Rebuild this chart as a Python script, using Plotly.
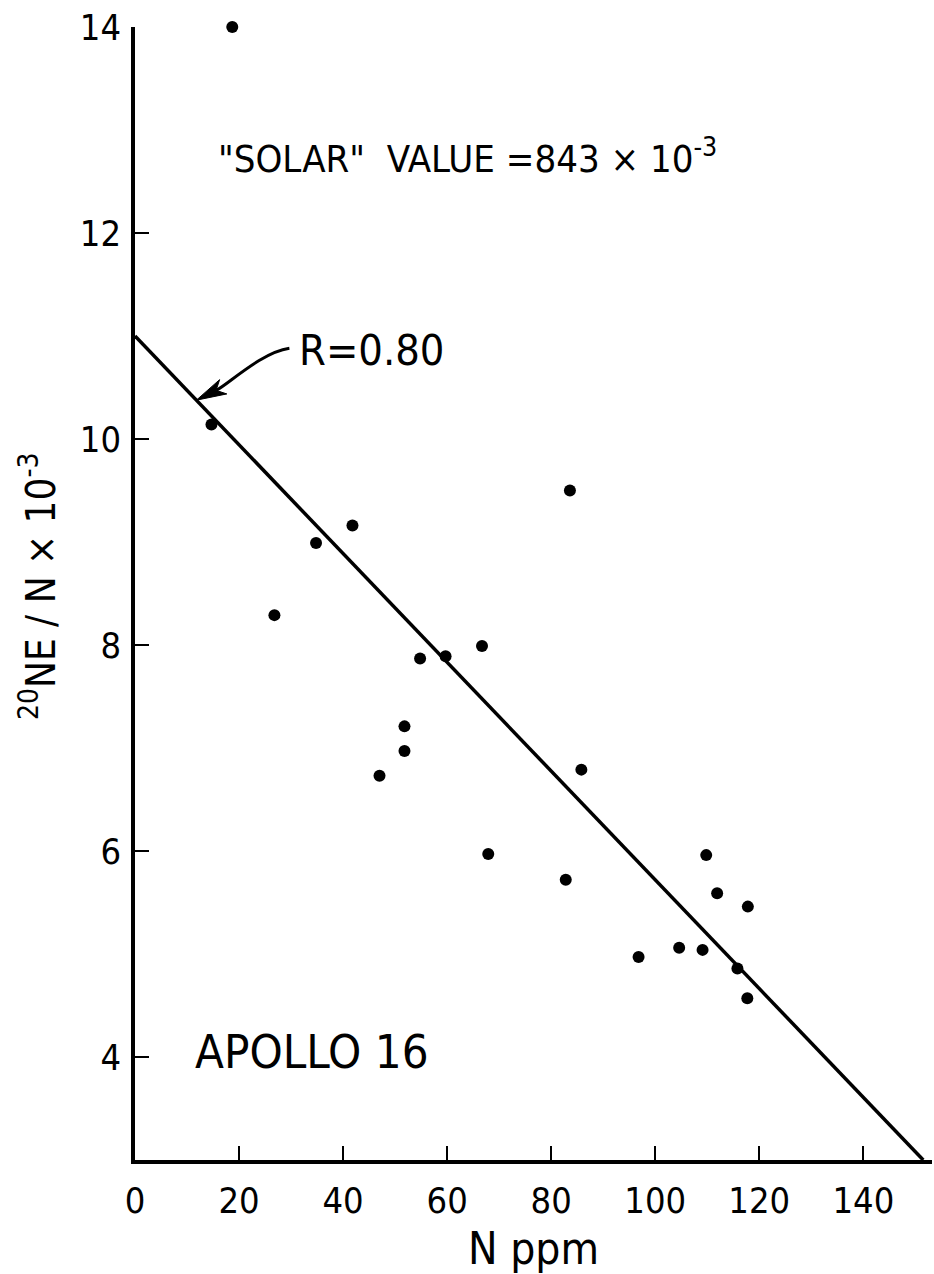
import math
import plotly.graph_objects as go

# Nitrogen content (ppm) and 20Ne/N ratio (x 10^-3) for Apollo 16 samples
n_ppm = [18.7, 14.7, 41.8, 34.8, 26.8, 66.7, 83.6, 54.8, 59.7, 51.8, 51.8, 47.0,
         85.8, 67.9, 82.8, 109.8, 111.9, 117.8, 104.6, 109.1, 96.8, 115.8, 117.7]
ne_n_ratio = [14.0, 10.14, 9.16, 8.99, 8.29, 7.99, 9.50, 7.87, 7.89, 7.21, 6.97, 6.73,
              6.79, 5.97, 5.72, 5.96, 5.59, 5.46, 5.06, 5.04, 4.97, 4.86, 4.57]

# Least-squares line
fit_intercept = 11.0
fit_slope = -0.0528
fit_x = [0.0, (3.0 - fit_intercept) / fit_slope]

x_ticks = [0, 20, 40, 60, 80, 100, 120, 140]
y_ticks = [4, 6, 8, 10, 12, 14]

X_RANGE = [0, 153.2]
Y_RANGE = [3, 14]
W, H = 934, 1274
ML, MR, MT, MB = 135, 2, 27, 112

FONT = "DejaVu Sans Condensed, DejaVu Sans, sans-serif"

fig = go.Figure()

fig.add_trace(go.Scatter(
    x=fit_x, y=[fit_intercept + fit_slope * v for v in fit_x],
    mode="lines", line=dict(color="black", width=3.5), hoverinfo="skip", showlegend=False,
))
fig.add_trace(go.Scatter(
    x=n_ppm, y=ne_n_ratio, mode="markers",
    marker=dict(color="black", size=12), showlegend=False, cliponaxis=False,
))

# pixel <-> data helpers for the curved pointer
pw = W - ML - MR
ph = H - MT - MB
def px_to_x(px):
    return X_RANGE[0] + (px - ML) / pw * (X_RANGE[1] - X_RANGE[0])
def py_to_y(py):
    return Y_RANGE[1] - (py - MT) / ph * (Y_RANGE[1] - Y_RANGE[0])
def x_to_px(x):
    return ML + (x - X_RANGE[0]) / (X_RANGE[1] - X_RANGE[0]) * pw
def y_to_py(y):
    return MT + (Y_RANGE[1] - y) / (Y_RANGE[1] - Y_RANGE[0]) * ph

# pointer from the "R=0.80" label to the fitted line
tip_x = 11.8
tip = (x_to_px(tip_x), y_to_py(fit_intercept + fit_slope * tip_x))
tail = (tip[0] + 93, tip[1] - 52)
c1 = (tip[0] + 65, tip[1] - 48)
c2 = (tip[0] + 32, tip[1] - 16)

def P(p):
    return f"{px_to_x(p[0]):.4f},{py_to_y(p[1]):.4f}"

fig.add_shape(type="path", xref="x", yref="y",
              path=f"M {P(tail)} C {P(c1)} {P(c2)} {P((tip[0] + 20, tip[1] - 10))}",
              line=dict(color="black", width=3))

bx, by = 26, -13
n = math.hypot(bx, by)
bx, by = bx / n, by / n
qx, qy = -by, bx
L, hw, notch = 30, 8, 22
corner1 = (tip[0] + L * bx + hw * qx, tip[1] + L * by + hw * qy)
corner2 = (tip[0] + L * bx - hw * qx, tip[1] + L * by - hw * qy)
back = (tip[0] + notch * bx, tip[1] + notch * by)
fig.add_shape(type="path", xref="x", yref="y",
              path=f"M {P(tip)} L {P(corner1)} L {P(back)} L {P(corner2)} Z",
              fillcolor="black", line=dict(color="black", width=1))

fig.add_annotation(x=px_to_x(371), y=py_to_y(351), text="R=0.80", showarrow=False,
                   font=dict(family=FONT, size=43, color="black"),
                   xanchor="center", yanchor="middle")

fig.add_annotation(x=px_to_x(467), y=py_to_y(156),
                   text='"SOLAR"  VALUE =843 × 10<sup>-3</sup>', showarrow=False,
                   font=dict(family=FONT, size=38, color="black"),
                   xanchor="center", yanchor="middle")

fig.add_annotation(x=px_to_x(312), y=py_to_y(1053), text="APOLLO 16", showarrow=False,
                   font=dict(family=FONT, size=47, color="black"),
                   xanchor="center", yanchor="middle")

fig.add_annotation(xref="paper", yref="paper", x=(38 - ML) / pw, y=(H - MB - 587) / ph,
                   text="<sup>20</sup>NE / N × 10<sup>-3</sup>", showarrow=False, textangle=-90,
                   font=dict(family=FONT, size=40, color="black"),
                   xanchor="center", yanchor="middle")

fig.update_xaxes(
    range=X_RANGE, tickvals=x_ticks, ticks="inside", ticklen=14, tickwidth=2,
    tickcolor="black", showline=True, linecolor="black", linewidth=3.5,
    showgrid=False, zeroline=False, ticklabelstandoff=6,
    tickfont=dict(family=FONT, size=36, color="black"),
    title=dict(text="N ppm", font=dict(family=FONT, size=44, color="black"), standoff=20),
)
fig.update_yaxes(
    range=Y_RANGE, tickvals=y_ticks, ticks="inside", ticklen=14, tickwidth=2,
    tickcolor="black", showline=True, linecolor="black", linewidth=3.5,
    showgrid=False, zeroline=False, ticklabelstandoff=3,
    tickfont=dict(family=FONT, size=36, color="black"),
)

fig.update_layout(
    width=W, height=H, margin=dict(l=ML, r=MR, t=MT, b=MB),
    paper_bgcolor="white", plot_bgcolor="white", showlegend=False,
)

fig.write_html("out.html")
